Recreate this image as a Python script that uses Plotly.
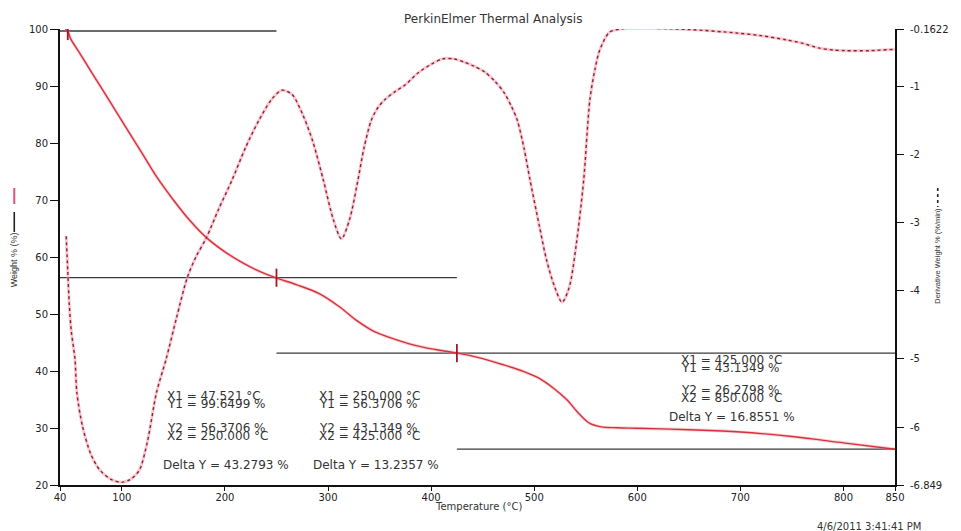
import plotly.graph_objects as go

# Weight loss curve (TGA), temperature in °C, weight in %
temp_w = [45, 47.5, 50, 60, 80, 100, 120, 134, 150, 166, 182, 200, 216, 232, 249, 270, 291,
          310, 329, 345, 361, 378, 394, 410, 426, 445, 470, 490, 505, 520, 532, 543, 554,
          565, 580, 600, 650, 700, 750, 800, 850]
weight = [99.9, 99.65, 98.4, 95.5, 89.7, 83.9, 78.1, 74.0, 70.0, 66.4, 63.4, 60.9, 59.1,
          57.6, 56.37, 55.1, 53.6, 51.4, 48.7, 46.9, 45.8, 44.8, 44.1, 43.6, 43.13, 42.4,
          41.1, 39.9, 38.7, 36.8, 34.9, 32.6, 30.8, 30.2, 30.05, 29.95, 29.7, 29.3, 28.5,
          27.4, 26.28]

# Derivative weight curve (DTG), %/min
temp_d = [46, 47.5, 49, 51, 54.5, 56.4, 62, 70, 78.6, 90, 99.8, 108, 117, 125, 133.5, 143,
          153, 163.4, 172, 181.8, 194, 206.8, 220, 233, 245, 255, 265, 275, 285, 295.5, 305,
          313, 321, 329, 335, 342, 348.6, 355, 365, 375, 387, 400, 411, 422, 432.5, 442,
          451.8, 462, 471, 478, 483.6, 490, 496, 505, 512, 520, 527, 534, 541, 548, 554,
          559, 563.6, 573, 585, 599, 650, 695.6, 720, 744, 760, 775.8, 790, 802, 825, 850]
deriv = [-3.2, -3.7, -4.2, -4.6, -5.0, -5.5, -6.0, -6.4, -6.63, -6.77, -6.81, -6.77, -6.63,
         -6.2, -5.5, -5.0, -4.4, -3.81, -3.5, -3.23, -2.8, -2.38, -1.9, -1.5, -1.2, -1.06,
         -1.12, -1.4, -1.8, -2.38, -2.95, -3.24, -2.95, -2.38, -1.9, -1.5, -1.31, -1.2,
         -1.08, -0.98, -0.81, -0.68, -0.6, -0.6, -0.65, -0.71, -0.79, -0.93, -1.1, -1.3,
         -1.5, -1.9, -2.38, -3.05, -3.55, -3.95, -4.17, -3.95, -3.3, -2.38, -1.2, -0.75,
         -0.47, -0.21, -0.16, -0.15, -0.17, -0.22, -0.26, -0.32, -0.37, -0.44, -0.47,
         -0.48, -0.48, -0.46]

# Cursor pairs (X1, Y1) -> (X2, Y2)
cur_x1 = [47.521, 250.0, 425.0]
cur_y1 = [99.6499, 56.3706, 43.1349]
cur_x2 = [250.0, 425.0, 850.0]
cur_y2 = [56.3706, 43.1349, 26.2798]
delta_y = [43.2793, 13.2357, 16.8551]

x_ticks = [40, 100, 200, 300, 400, 500, 600, 700, 800, 850]
y_ticks = [20, 30, 40, 50, 60, 70, 80, 90, 100]
y2_ticks = [-0.1622, -1, -2, -3, -4, -5, -6, -6.849]
y2_text = ["-0.1622", "-1", "-2", "-3", "-4", "-5", "-6", "-6.849"]

X_MIN, X_MAX = 40, 850
Y_MIN, Y_MAX = 20, 100

L, R, T, B = 60, 61, 29, 46
W, H = 961, 531
PW, PH = W - L - R, H - T - B


def px(xp):
    return (xp - L) / PW


def py(yp):
    return (H - B - yp) / PH


fig = go.Figure()

# Horizontal cursor lines
for i in range(3):
    fig.add_trace(go.Scatter(x=[X_MIN if i < 2 else cur_x1[i - 1], cur_x2[i]],
                             y=[cur_y1[i], cur_y1[i]], mode="lines",
                             line=dict(color="#3a3a3a", width=1.3), hoverinfo="skip"))
fig.add_trace(go.Scatter(x=[cur_x1[2], cur_x2[2]], y=[cur_y2[2], cur_y2[2]], mode="lines",
                         line=dict(color="#3a3a3a", width=1.3), hoverinfo="skip"))

# DTG curve: soft halo plus dotted line
fig.add_trace(go.Scatter(x=temp_d, y=deriv, yaxis="y2", mode="lines",
                         line=dict(color="rgba(240,150,165,0.5)", width=3, shape="spline",
                                   smoothing=0.8), hoverinfo="skip"))
fig.add_trace(go.Scatter(x=temp_d, y=deriv, yaxis="y2", mode="lines",
                         line=dict(color="#8e2035", width=1.4, dash="dot", shape="spline",
                                   smoothing=0.8), hoverinfo="skip"))

# TGA curve
fig.add_trace(go.Scatter(x=temp_w, y=weight, mode="lines",
                         line=dict(color="rgba(240,140,150,0.4)", width=3.2, shape="spline",
                                   smoothing=1.0), hoverinfo="skip"))
fig.add_trace(go.Scatter(x=temp_w, y=weight, mode="lines",
                         line=dict(color="#d8303c", width=1.4, shape="spline", smoothing=1.0),
                         hoverinfo="skip"))

# Cursor markers on the TGA curve
fig.add_trace(go.Scatter(x=cur_x1, y=cur_y1, mode="markers",
                         marker=dict(symbol="line-ns", size=13,
                                     line=dict(color="#a01828", width=1.8)),
                         hoverinfo="skip"))

tick_font = dict(family="DejaVu Sans", size=10, color="#222")
fig.update_layout(
    width=W, height=H, margin=dict(l=L, r=R, t=T, b=B),
    paper_bgcolor="white", plot_bgcolor="white", showlegend=False,
    xaxis=dict(range=[X_MIN, X_MAX], tickvals=x_ticks, showgrid=False, zeroline=False,
               showline=True, linecolor="#111", linewidth=2, ticks="outside", ticklen=4,
               tickcolor="#111", tickfont=tick_font, ticklabelstandoff=-2),
    yaxis=dict(range=[Y_MIN, Y_MAX], tickvals=y_ticks, showgrid=False, zeroline=False,
               showline=True, linecolor="#111", linewidth=2, ticks="outside", ticklen=8,
               tickcolor="#111", tickfont=tick_font),
    yaxis2=dict(range=[-6.849, -0.1622], overlaying="y", side="right", tickvals=y2_ticks,
                ticktext=y2_text, showgrid=False, zeroline=False, showline=True,
                linecolor="#111", linewidth=2, ticks="outside", ticklen=7, tickcolor="#111",
                tickfont=tick_font, ticklabelstandoff=4),
)

ann_font = dict(family="DejaVu Sans", size=12, color="#333")


def label(text, xp, yp, font=ann_font, anchor="left", angle=0):
    fig.add_annotation(text=text, x=px(xp), y=py(yp), xref="paper", yref="paper",
                       xanchor=anchor, yanchor="middle", showarrow=False, font=font,
                       textangle=angle)


# Cursor readouts
label_cols = [(166, 162), (319, 312)]
for i, (xc, xd) in enumerate(label_cols):
    label(f"X1 = {cur_x1[i]:.3f} °C", xc, 396)
    label(f"Y1 = {cur_y1[i]:.4f} %", xc, 404)
    label(f"Y2 = {cur_y2[i]:.4f} %", xc, 428)
    label(f"X2 = {cur_x2[i]:.3f} °C", xc, 436)
    label(f"Delta Y = {delta_y[i]:.4f} %", xd, 465)
label(f"X1 = {cur_x1[2]:.3f} °C", 683, 360)
label(f"Y1 = {cur_y1[2]:.4f} %", 683, 368)
label(f"Y2 = {cur_y2[2]:.4f} %", 683, 390)
label(f"X2 = {cur_x2[2]:.3f} °C", 683, 398)
label(f"Delta Y = {delta_y[2]:.4f} %", 671, 417)

# Title, axis titles, timestamp
label("PerkinElmer Thermal Analysis", 496, 19,
      font=dict(family="DejaVu Sans", size=12, color="#333"), anchor="center")
label("Temperature (°C)", 481, 506,
      font=dict(family="DejaVu Sans", size=10, color="#333"), anchor="center")
label("Weight % (%)", 14, 260,
      font=dict(family="Liberation Sans", size=9, color="#333"), anchor="center", angle=-90)
label("Derivative Weight % (%/min)", 942, 256,
      font=dict(family="Liberation Sans", size=7.5, color="#333"), anchor="center", angle=-90)
label("4/6/2011 3:41:41 PM", 820, 526,
      font=dict(family="DejaVu Sans", size=10, color="#333"))

# Line-style keys beside the axis titles
fig.add_shape(type="line", xref="paper", yref="paper", x0=px(14), x1=px(14),
              y0=py(188), y1=py(204), line=dict(color="#e0507a", width=2))
fig.add_shape(type="line", xref="paper", yref="paper", x0=px(14), x1=px(14),
              y0=py(212), y1=py(232), line=dict(color="#222", width=1.6))
fig.add_shape(type="line", xref="paper", yref="paper", x0=px(943), x1=px(943),
              y0=py(188), y1=py(207), line=dict(color="#222", width=1.6, dash="dot"))

fig.write_html("out.html")
